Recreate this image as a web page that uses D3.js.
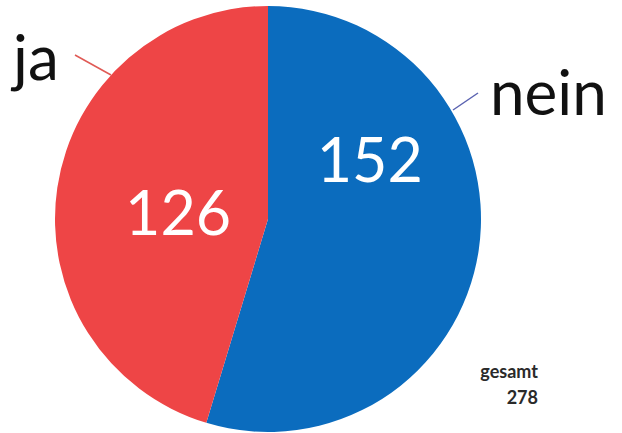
<!DOCTYPE html>
<html>
<head>
<meta charset="utf-8">
<script src="https://cdn.jsdelivr.net/npm/d3@7"></script>
<style>
  body { margin: 0; background: #fff; }
  svg { display: block; }
</style>
</head>
<body>
<div class="CHART"></div>
<script>
var width = 622, height = 433;

// data
var categories = ["nein", "ja"];
var values = [152, 126];
var colors = ["#0B6CBE", "#EE4546"];
var totalLabel = "gesamt";

var cx = 268, cy = 219, radius = 213;

var svg = d3.select(".CHART").append("svg")
    .attr("width", width)
    .attr("height", height);

var pie = d3.pie().sort(null).value(function(d) { return d; });
var arc = d3.arc().innerRadius(0).outerRadius(radius);

var arcs = pie(values);

var g = svg.append("g").attr("transform", "translate(" + cx + "," + cy + ")");

g.selectAll("path.slice")
  .data(arcs)
  .enter().append("path")
    .attr("class", "slice")
    .attr("d", arc)
    .attr("fill", function(d, i) { return colors[i]; });

// value labels inside slices (angle in degrees from top, distance from centre)
var valuePos = [{a: 60.4, r: 117}, {a: -86.8, r: 90}];

g.selectAll("text.val")
  .data(arcs)
  .enter().append("text")
    .attr("class", "val")
    .attr("transform", function(d, i) {
      var p = valuePos[i], t = p.a * Math.PI / 180;
      return "translate(" + (Math.sin(t) * p.r) + "," + (-Math.cos(t) * p.r + 21) + ")";
    })
    .attr("text-anchor", "middle")
    .style("font-family", "Lato, 'Open Sans', sans-serif")
    .style("font-size", "61px")
    .attr("fill", "#fff")
    .text(function(d) { return d.value; });

// category labels with leader lines
var outerLabels = [
  {x: 490, y: 115, line: [[478, 93], [453, 110]], lineColor: "#5a62b0"},
  {x: 13, y: 80, line: [[75, 55], [111, 75]], lineColor: "#e05a55"}
];

categories.forEach(function(c, i) {
  var o = outerLabels[i];
  svg.append("line")
    .attr("x1", o.line[0][0]).attr("y1", o.line[0][1])
    .attr("x2", o.line[1][0]).attr("y2", o.line[1][1])
    .attr("stroke", o.lineColor)
    .attr("stroke-width", 1.5);
  svg.append("text")
    .attr("x", o.x)
    .attr("y", o.y)
    .style("font-family", "Lato, 'Open Sans', sans-serif")
    .style("font-size", "62px")
    .attr("fill", "#111")
    .text(c);
});

// total
var total = d3.sum(values);
[[totalLabel, 378], [total, 404]].forEach(function(t) {
  svg.append("text")
    .attr("x", 538).attr("y", t[1])
    .attr("text-anchor", "end")
    .style("font-family", "Lato, 'Open Sans', sans-serif")
    .style("font-size", "18px")
    .style("font-weight", "bold")
    .attr("fill", "#2a2a2a")
    .text(t[0]);
});
</script>
</body>
</html>
